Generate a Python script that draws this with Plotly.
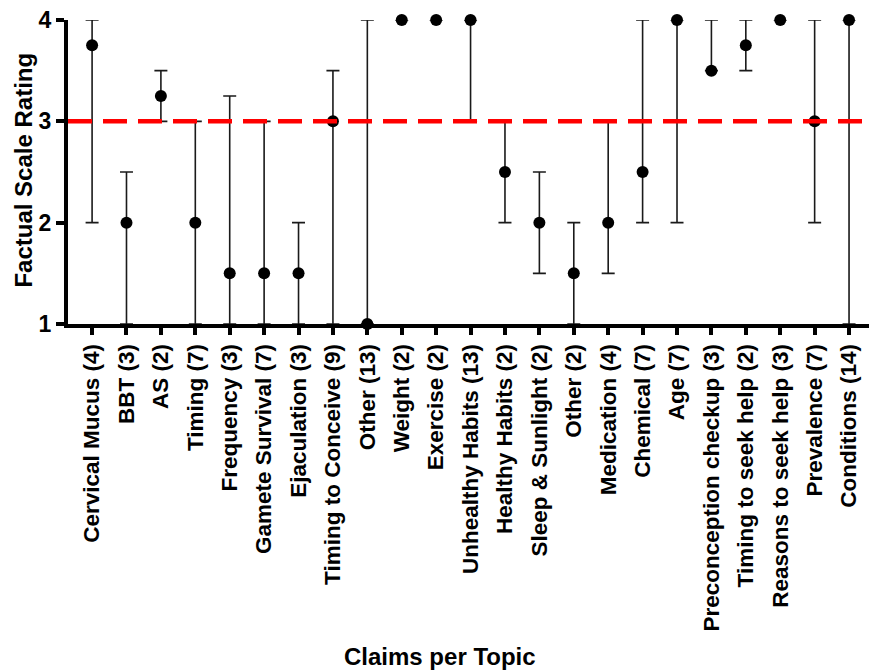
import plotly.graph_objects as go

categories = ["Cervical Mucus (4)", "BBT (3)", "AS (2)", "Timing (7)", "Frequency (3)",
              "Gamete Survival (7)", "Ejaculation (3)", "Timing to Conceive (9)", "Other (13)",
              "Weight (2)", "Exercise (2)", "Unhealthy Habits (13)", "Healthy Habits (2)",
              "Sleep & Sunlight (2)", "Other (2)", "Medication (4)", "Chemical (7)", "Age (7)",
              "Preconception checkup (3)", "Timing to seek help (2)", "Reasons to seek help (3)",
              "Prevalence (7)", "Conditions (14)"]
median = [3.75, 2, 3.25, 2, 1.5, 1.5, 1.5, 3, 1, 4, 4, 4, 2.5, 2, 1.5, 2, 2.5, 4, 3.5, 3.75, 4, 3, 4]
low    = [2, 1, 3, 1, 1, 1, 1, 1, 1, 4, 4, 3, 2, 1.5, 1, 1.5, 2, 2, 3.5, 3.5, 4, 2, 1]
high   = [4, 2.5, 3.5, 3, 3.25, 3, 2, 3.5, 4, 4, 4, 4, 3, 2.5, 2, 3, 4, 4, 4, 4, 4, 4, 4]
threshold = 3
yticks = [1, 2, 3, 4]

xpos = list(range(len(categories)))
err_up = [h - m for h, m in zip(high, median)]
err_dn = [m - l for m, l in zip(median, low)]

FONT = "Liberation Sans, Arial, Helvetica, sans-serif"

fig = go.Figure()
fig.add_trace(go.Scatter(
    x=xpos, y=median, mode="markers",
    marker=dict(size=12, color="black"),
    error_y=dict(type="data", symmetric=False, array=err_up, arrayminus=err_dn,
                 color="#1a1a1a", thickness=1.6, width=6.5),
    cliponaxis=False, showlegend=False,
))

fig.add_shape(type="line", xref="paper", yref="y", x0=0, x1=1, y0=threshold, y1=threshold,
              line=dict(color="#ff0000", width=4.5, dash="24px,11px"), layer="above")

fig.update_layout(
    width=869, height=670,
    margin=dict(l=68, r=0, t=20, b=346),
    plot_bgcolor="white", paper_bgcolor="white",
    font=dict(family=FONT, color="black"),
    showlegend=False,
)
fig.update_xaxes(
    range=[-0.7, 22.58], tickmode="array", tickvals=xpos, ticktext=categories,
    tickangle=-90, ticks="outside", ticklen=7, tickwidth=3.5, tickcolor="black",
    showline=True, linewidth=4, linecolor="black", showgrid=False, zeroline=False,
    tickfont=dict(family=FONT, size=22.5, color="black", weight="bold"),
)
fig.update_yaxes(
    range=[1, 4], tickmode="array", tickvals=yticks, ticktext=[str(v) for v in yticks],
    ticks="outside", ticklen=8, tickwidth=4, tickcolor="black",
    showline=True, linewidth=4, linecolor="black", showgrid=False, zeroline=False,
    tickfont=dict(family=FONT, size=23, color="black", weight="bold"),
)

fig.add_annotation(text="Factual Scale Rating", xref="paper", yref="paper",
                   x=-0.056, y=0.505, textangle=-90, showarrow=False,
                   xanchor="center", yanchor="middle",
                   font=dict(family=FONT, size=24, color="black", weight="bold"))
fig.add_annotation(text="Claims per Topic", xref="paper", yref="paper",
                   x=0.465, y=-1.095, showarrow=False,
                   xanchor="center", yanchor="middle",
                   font=dict(family=FONT, size=24, color="black", weight="bold"))

fig.write_html("out.html",
               config={"displayModeBar": False},
               post_script="document.body.style.margin='0';document.body.style.overflow='hidden';")
